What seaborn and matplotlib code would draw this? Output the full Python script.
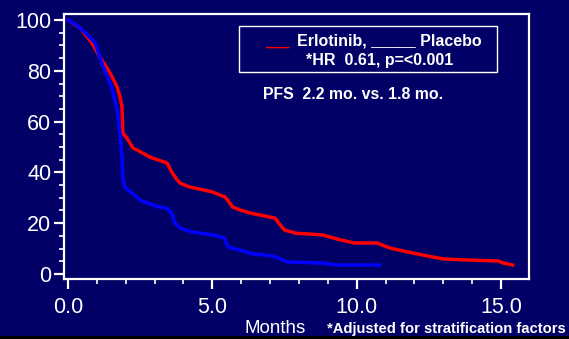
import matplotlib
matplotlib.use("Agg")
import matplotlib.pyplot as plt
import seaborn as sns
import pandas as pd
from matplotlib.ticker import MultipleLocator
from matplotlib.patches import Rectangle

# ---- data ----
erlotinib_months = [0, 0.2, 0.42, 0.83, 1.1, 1.3, 1.46, 1.6, 1.7, 1.8, 1.87, 1.9, 2.04, 2.25,
                    2.4, 2.84, 3.43, 3.6, 3.75, 3.88, 4.2, 5.0, 5.44, 5.6, 5.7, 5.96, 6.3,
                    6.65, 7.17, 7.35, 7.5, 7.9, 8.4, 8.84, 9.3, 9.9, 10.7, 11.15, 11.75,
                    12.44, 13.0, 13.8, 14.9, 15.07, 15.4]
erlotinib_pfs = [100, 98.5, 96.9, 91, 85.4, 82, 79, 76, 73.6, 69.7, 65.7, 55.5, 53.5, 49.6,
                 48.8, 46, 43.7, 40, 37.5, 35.8, 34.3, 32.3, 30.3, 28, 26.4, 25.2, 24,
                 23.2, 22, 19.3, 17.3, 16, 15.7, 15.3, 13.8, 12.2, 12.2, 10.2, 8.7,
                 7.1, 5.9, 5.5, 5.1, 4.3, 3.5]

placebo_months = [0, 0.3, 0.6, 0.94, 1.2, 1.5, 1.7, 1.8, 1.87, 1.9, 1.97, 2.2, 2.5, 3.1,
                  3.4, 3.6, 3.7, 3.9, 4.3, 5.0, 5.4, 5.55, 5.96, 6.4, 7.1, 7.35, 7.6,
                  8.8, 9.3, 10.8]
placebo_pfs = [100, 98, 95, 91, 82, 74, 65, 55, 46, 38, 34, 32, 29, 26.5,
               26, 24, 20, 18, 16.5, 15.4, 14.2, 10.6, 9.4, 7.9, 7.1, 5.9, 4.7,
               4.3, 3.5, 3.5]

arms = ["Erlotinib", "Placebo"]
arm_colors = {"Erlotinib": "#ff0000", "Placebo": "#0000ff"}

x_ticks = [0.0, 5.0, 10.0, 15.0]
x_tick_labels = ["0.0", "5.0", "10.0", "15.0"]
y_ticks = [0, 20, 40, 60, 80, 100]

df = pd.concat([
    pd.DataFrame({"month": erlotinib_months, "pfs": erlotinib_pfs, "arm": "Erlotinib"}),
    pd.DataFrame({"month": placebo_months, "pfs": placebo_pfs, "arm": "Placebo"}),
])

NAVY = "#000066"
W, H = 569, 339
fig = plt.figure(figsize=(W / 100, H / 100), dpi=100)
fig.patch.set_facecolor(NAVY)
plt.rcParams["font.family"] = ["Liberation Sans", "DejaVu Sans"]

ax = fig.add_axes([64 / W, (H - 279) / H, (529 - 64) / W, (279 - 14) / H])
ax.set_facecolor(NAVY)

sns.lineplot(data=df, x="month", y="pfs", hue="arm", hue_order=arms, palette=arm_colors,
             estimator=None, sort=False, linewidth=2.5, legend=False, ax=ax)

ax.set_xlim(-0.14, 15.97)
ax.set_ylim(-2, 102.4)
ax.set_xticks(x_ticks)
ax.set_xticklabels(x_tick_labels)
ax.set_yticks(y_ticks)
ax.xaxis.set_minor_locator(MultipleLocator(1))
ax.yaxis.set_minor_locator(MultipleLocator(5))
ax.set_xlabel("")
ax.set_ylabel("")

for s in ax.spines.values():
    s.set_color("white")
    s.set_linewidth(1.6)

ax.tick_params(axis="both", which="major", colors="white", width=1.6, length=7,
               labelsize=15.5, labelcolor="white")
ax.tick_params(axis="both", which="minor", colors="white", width=1.2, length=3.5)
ax.tick_params(axis="x", which="major", pad=6)
ax.tick_params(axis="y", which="major", pad=2)

# legend box & annotations
fig.patches.append(Rectangle((239 / W, (H - 72) / H), (497 - 239) / W, (72 - 26) / H,
                             transform=fig.transFigure, fill=False, edgecolor="white",
                             linewidth=1.0))
fig.text(265 / W, (H - 46) / H, "___", color="#ff0000", fontsize=10.5, fontweight="bold",
         va="baseline", ha="left")
fig.text(297 / W, (H - 46) / H, "Erlotinib, _____ Placebo", color="white", fontsize=11.5,
         fontweight="bold", va="baseline", ha="left")
fig.text(380 / W, (H - 65) / H, "*HR  0.61, p=<0.001", color="white", fontsize=11.5,
         fontweight="bold", va="baseline", ha="center")
fig.text(263 / W, (H - 99) / H, "PFS  2.2 mo. vs. 1.8 mo.", color="white", fontsize=11.4,
         fontweight="bold", va="baseline", ha="left")

fig.text(244 / W, (H - 333) / H, "Months", color="white", fontsize=13.5,
         va="baseline", ha="left")
fig.text(327 / W, (H - 333) / H, "*Adjusted for stratification factors", color="white",
         fontsize=10.6, fontweight="bold", va="baseline", ha="left")

fig.patches.append(Rectangle((0, 0), 1, 3 / H, transform=fig.transFigure,
                             facecolor="black", edgecolor="none"))

fig.savefig("out.png", dpi=100, facecolor=NAVY)
